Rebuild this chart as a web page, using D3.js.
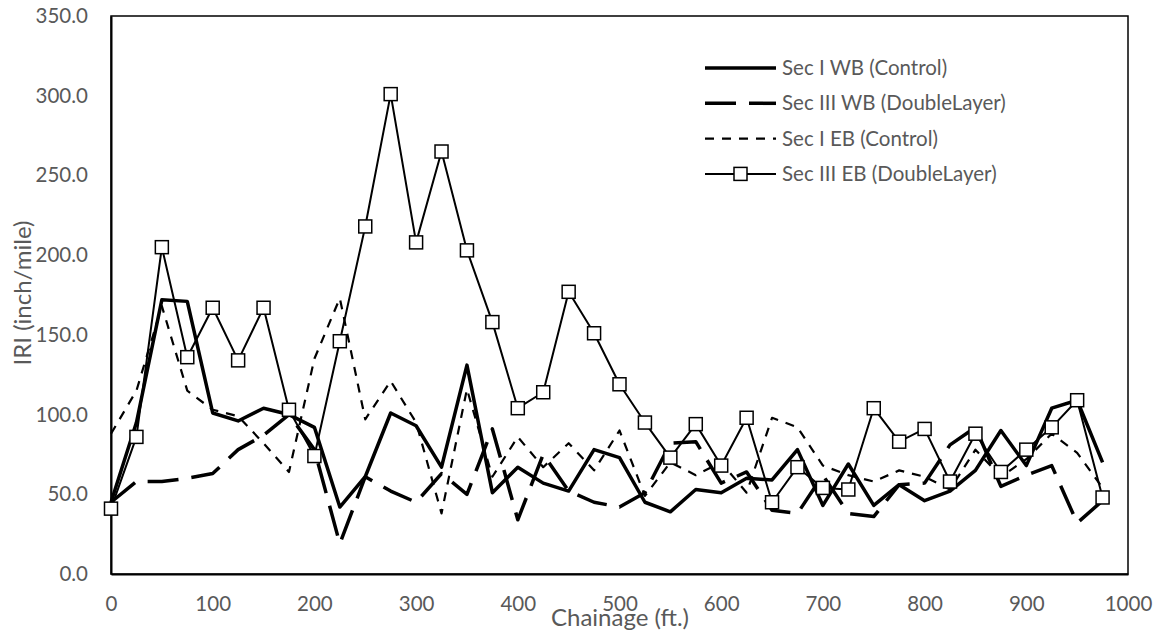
<!DOCTYPE html>
<html>
<head>
<meta charset="utf-8">
<script src="https://cdn.jsdelivr.net/npm/d3@7"></script>
<style>
  body { margin: 0; background: #fff; }
  text { font-family: Lato, "Open Sans", sans-serif; }
</style>
</head>
<body>
<div id="display"></div>
<script>
let w = 1157;
let h = 633;

// chart data
const chainage = [0, 25, 50, 75, 100, 125, 150, 175, 200, 225, 250, 275, 300, 325, 350, 375, 400, 425, 450, 475,
                  500, 525, 550, 575, 600, 625, 650, 675, 700, 725, 750, 775, 800, 825, 850, 875, 900, 925, 950, 975];
const secIWB   = [45, 95, 172, 171, 101, 96, 104, 100, 92, 42, 61, 101, 93, 67, 131, 51, 67, 57, 52, 78,
                  73, 45, 39, 53, 51, 60, 59, 78, 43, 69, 43, 56, 46, 52, 65, 90, 68, 104, 109, 70];
const secIIIWB = [45, 58, 58, 60, 63, 78, 87, 100, 78, 19, 61, 52, 45, 63, 50, 91, 34, 75, 52, 45,
                  42, 51, 82, 83, 57, 64, 40, 38, 62, 38, 36, 56, 57, 81, 92, 55, 62, 68, 32, 46];
const secIEB   = [88, 115, 168, 115, 103, 99, 82, 64, 135, 173, 97, 121, 95, 38, 116, 61, 86, 67, 82, 65,
                  90, 49, 70, 62, 70, 51, 98, 92, 68, 62, 58, 65, 61, 53, 78, 61, 72, 88, 76, 54];
const secIIIEB = [41, 86, 205, 136, 167, 134, 167, 103, 74, 146, 218, 301, 208, 265, 203, 158, 104, 114, 177, 151,
                  119, 95, 73, 94, 68, 98, 45, 67, 54, 53, 104, 83, 91, 58, 88, 64, 78, 92, 109, 48];
const xTicks = [0, 100, 200, 300, 400, 500, 600, 700, 800, 900, 1000];
const yTicks = [0, 50, 100, 150, 200, 250, 300, 350];

const series = [
    {name: 'Sec I WB (Control)', values: secIWB, width: 3.5, dash: null, marker: false},
    {name: 'Sec III WB (DoubleLayer)', values: secIIIWB, width: 3.5, dash: '31,13', marker: false},
    {name: 'Sec I EB (Control)', values: secIEB, width: 2.2, dash: '9,8', marker: false},
    {name: 'Sec III EB (DoubleLayer)', values: secIIIEB, width: 2, dash: null, marker: true}
];

const plotL = 111, plotR = 1128, plotT = 16, plotB = 574;
const grey = '#595959';

let viz = d3.select('#display')
            .append('svg')
                .attr('width', w)
                .attr('height', h)
                .style('background-color', 'white');

let xScale = d3.scaleLinear().domain([0, 1000]).range([plotL, plotR]);
let yScale = d3.scaleLinear().domain([0, 350]).range([plotB, plotT]);

// plot frame
viz.append('rect')
    .attr('x', plotL).attr('y', plotT)
    .attr('width', plotR - plotL).attr('height', plotB - plotT)
    .attr('fill', 'none').attr('stroke', 'black').attr('stroke-width', 1.5);

let yAxis = d3.axisLeft(yScale).tickValues(yTicks).tickFormat(d3.format('.1f')).tickSize(0).tickPadding(23);
viz.append('g')
    .attr('class', 'yaxis')
    .attr('transform', 'translate(' + plotL + ',0)')
    .call(yAxis)
    .call(g => g.select('.domain').attr('stroke', 'black').attr('stroke-width', 2));

let xAxis = d3.axisBottom(xScale).tickValues(xTicks).tickFormat(d3.format('d')).tickSize(0).tickPadding(22);
viz.append('g')
    .attr('class', 'xaxis')
    .attr('transform', 'translate(0,' + plotB + ')')
    .call(xAxis)
    .call(g => g.select('.domain').attr('stroke', 'black').attr('stroke-width', 2));

viz.selectAll('.xaxis text, .yaxis text')
    .attr('fill', grey)
    .style('font-size', '20.5px')
    .style('font-family', 'Lato, sans-serif');

// axis titles
viz.append('text')
    .attr('x', 620).attr('y', 626)
    .attr('text-anchor', 'middle')
    .attr('fill', grey)
    .style('font-size', '24px')
    .text('Chainage (ft.)');

viz.append('text')
    .attr('transform', 'translate(31,293) rotate(-90)')
    .attr('text-anchor', 'middle')
    .attr('fill', grey)
    .style('font-size', '24px')
    .text('IRI (inch/mile)');

let line = d3.line()
    .x((d, i) => xScale(chainage[i]))
    .y(d => yScale(d));

series.forEach(s => {
    viz.append('path')
        .datum(s.values)
        .attr('d', line)
        .attr('fill', 'none')
        .attr('stroke', 'black')
        .attr('stroke-width', s.width)
        .attr('stroke-linejoin', 'round')
        .attr('stroke-dasharray', s.dash);
    if (s.marker) {
        viz.selectAll(null)
            .data(s.values)
            .enter()
            .append('rect')
                .attr('x', (d, i) => xScale(chainage[i]) - 6.5)
                .attr('y', d => yScale(d) - 6.5)
                .attr('width', 13)
                .attr('height', 13)
                .attr('fill', 'white')
                .attr('stroke', 'black')
                .attr('stroke-width', 1.5);
    }
});

// legend
let legend = viz.append('g').attr('transform', 'translate(705,68)');
series.forEach((s, i) => {
    let row = legend.append('g').attr('transform', 'translate(0,' + (i * 35.3) + ')');
    row.append('line')
        .attr('x1', 0).attr('x2', 71)
        .attr('stroke', 'black')
        .attr('stroke-width', s.width)
        .attr('stroke-dasharray', s.dash);
    if (s.marker) {
        row.append('rect')
            .attr('x', 29).attr('y', -6.5)
            .attr('width', 13).attr('height', 13)
            .attr('fill', 'white').attr('stroke', 'black').attr('stroke-width', 1.5);
    }
    row.append('text')
        .attr('x', 77).attr('y', 0)
        .attr('dy', '0.35em')
        .attr('fill', grey)
        .style('font-size', '20.5px')
        .text(s.name);
});
</script>
</body>
</html>
